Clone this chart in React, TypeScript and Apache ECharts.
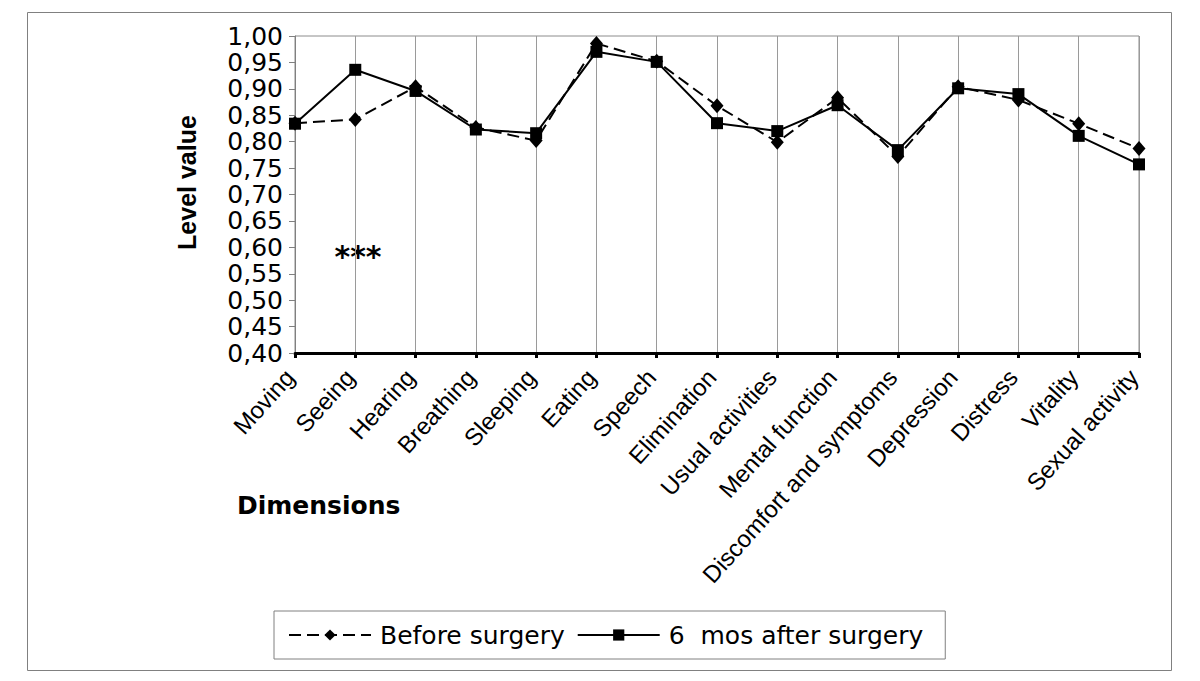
import React, { useEffect, useRef } from "react";
import * as echarts from "echarts";

const categories = [
  "Moving",
  "Seeing",
  "Hearing",
  "Breathing",
  "Sleeping",
  "Eating",
  "Speech",
  "Elimination",
  "Usual activities",
  "Mental function",
  "Discomfort and symptoms",
  "Depression",
  "Distress",
  "Vitality",
  "Sexual activity",
];

const beforeSurgery = [
  0.835, 0.842, 0.904, 0.827, 0.802, 0.986, 0.952, 0.868, 0.799, 0.883, 0.772,
  0.904, 0.879, 0.834, 0.787,
];

const afterSurgery = [
  0.834, 0.936, 0.896, 0.823, 0.816, 0.97, 0.951, 0.835, 0.82, 0.869, 0.784,
  0.901, 0.89, 0.811, 0.757,
];

const seriesNames = ["Before surgery", "6  mos after surgery"];
const yMin = 0.4;
const yMax = 1.0;
const yStep = 0.05;

export default function App() {
  const ref = useRef<HTMLDivElement>(null);

  useEffect(() => {
    if (!ref.current) return;
    const chart = echarts.init(ref.current, undefined, { renderer: "svg" });
    const option: any = {
      animation: false,
      backgroundColor: "#ffffff",
      textStyle: { fontFamily: "Liberation Sans, Arial, sans-serif", color: "#000" },
      grid: {
        left: 295,
        right: 61,
        top: 36,
        bottom: 328,
        show: true,
        borderColor: "#8c8c8c",
        borderWidth: 1,
        containLabel: false,
      },
      legend: {
        left: 274,
        top: 611,
        orient: "horizontal",
        itemWidth: 82,
        itemHeight: 14,
        itemGap: 12,
        padding: [11, 22, 11, 14],
        borderColor: "#808080",
        borderWidth: 1,
        data: seriesNames,
        textStyle: {
          fontFamily: "DejaVu Sans",
          fontSize: 25,
          lineHeight: 26,
          color: "#000",
          padding: [0, 0, 0, 4],
        },
      },
      xAxis: {
        type: "category",
        data: categories,
        boundaryGap: false,
        axisLine: { show: true, lineStyle: { color: "#000", width: 3 } },
        axisTick: { show: true, alignWithLabel: true, length: 5, lineStyle: { color: "#000", width: 3 } },
        splitLine: { show: true, lineStyle: { color: "#9a9a9a", width: 1 } },
        axisLabel: {
          interval: 0,
          rotate: 48,
          margin: 14,
          fontSize: 24,
          color: "#000",
          padding: [0, 8, 0, 0],
          fontFamily: "Liberation Sans, Arial, sans-serif",
        },
      },
      yAxis: {
        type: "value",
        min: yMin,
        max: yMax,
        interval: yStep,
        name: "Level value",
        nameLocation: "middle",
        nameRotate: 90,
        nameGap: 96,
        nameTextStyle: {
          fontFamily: "Liberation Sans, Arial, sans-serif",
          fontWeight: "bold",
          fontSize: 25,
          color: "#000",
          padding: [0, 0, 0, 24],
        },
        axisLine: { show: true, lineStyle: { color: "#808080", width: 1 } },
        axisTick: { show: true, length: 6, lineStyle: { color: "#808080" } },
        splitLine: { show: false },
        axisLabel: {
          margin: 12,
          fontSize: 25,
          color: "#000",
          fontFamily: "DejaVu Sans",
          formatter: (v: number) => v.toFixed(2).replace(".", ","),
        },
      },
      graphic: [
        {
          type: "rect",
          shape: { x: 27.5, y: 12.5, width: 1144, height: 658 },
          style: { fill: "none", stroke: "#808080", lineWidth: 1 },
          silent: true,
          z: -10,
        },
        {
          type: "text",
          x: 237,
          y: 505,
          style: {
            text: "Dimensions",
            fontFamily: "DejaVu Sans",
            fontWeight: "bold",
            fontSize: 25,
            fill: "#000",
            verticalAlign: "middle",
            align: "left",
          },
        },
        {
          type: "text",
          x: 358,
          y: 256,
          style: {
            text: "***",
            fontFamily: "DejaVu Sans",
            fontWeight: "bold",
            fontSize: 30,
            fill: "#000",
            verticalAlign: "middle",
            align: "center",
          },
        },
      ],
      series: [
        {
          name: seriesNames[0],
          type: "line",
          data: beforeSurgery,
          symbol: "diamond",
          symbolSize: [13, 15],
          lineStyle: { color: "#000", width: 2, type: [12, 6] },
          itemStyle: { color: "#000" },
          z: 3,
        },
        {
          name: seriesNames[1],
          type: "line",
          data: afterSurgery,
          symbol: "rect",
          symbolSize: 12,
          lineStyle: { color: "#000", width: 2, type: "solid" },
          itemStyle: { color: "#000" },
          z: 4,
        },
      ],
    };
    chart.setOption(option);
    return () => chart.dispose();
  }, []);

  return (
    <div
      ref={ref}
      style={{ position: "absolute", left: 0, top: 0, width: 1200, height: 681, background: "#fff" }}
    />
  );
}
